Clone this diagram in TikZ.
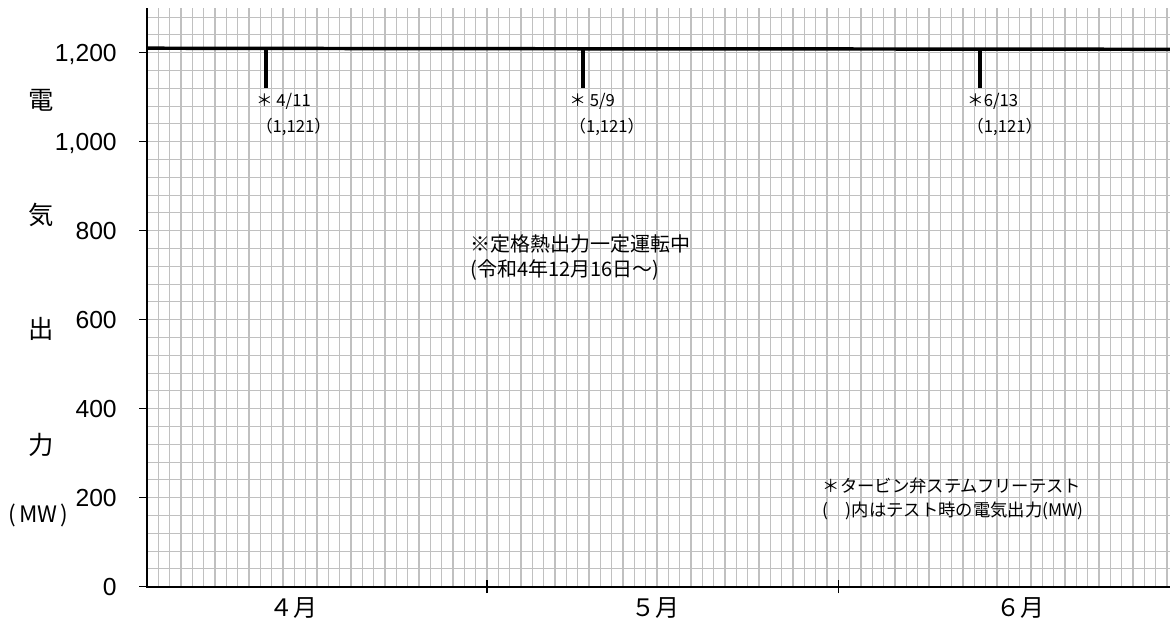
\documentclass[tikz,border=0pt]{standalone}
\usepackage{fontspec}
\setmainfont{Liberation Sans}
\newfontfamily\jpfont{Noto Sans CJK JP}
\definecolor{gridgray}{RGB}{192,192,192}
\begin{document}
\begin{tikzpicture}[x=8.5pt,y=0.33375pt]
\tikzstyle{gridline}= [gridgray,line width=0.8pt]
\tikzstyle{axisline}= [line width=1.6pt]
\tikzstyle{tick}= [line width=1.2pt]
\tikzstyle{trend}= [line width=2.6pt,line join=round]
\tikzstyle{dip}= [line width=3.2pt]
\tikzstyle{num}= [anchor=base east,inner sep=0pt,yshift=-6.7pt,font=\fontsize{18.5}{20}\selectfont]
\tikzstyle{ylab}= [inner sep=0pt,font=\jpfont\fontsize{19}{22}\selectfont]
\tikzstyle{month}= [inner sep=0pt,font=\jpfont\fontsize{18}{20}\selectfont]
\tikzstyle{diplbl}= [anchor=west,inner sep=0pt,font=\jpfont\fontsize{12.5}{14}\selectfont]
\tikzstyle{note}= [anchor=west,inner sep=0pt,font=\jpfont\fontsize{15}{18}\selectfont]
\tikzstyle{keynote}= [anchor=west,inner sep=0pt,font=\jpfont\fontsize{13}{16}\selectfont]
\useasboundingbox (-110.25pt,-29.5pt) rectangle (767.25pt,440pt);
% grid
\foreach \n in {1,...,90}
	\draw[gridline] (\n,0) -- (\n,1300);
\foreach \v in {40,80,...,1280}
	\draw[gridline] (0,\v) -- (90.3,\v);
% axes
\draw[axisline] (0,1300) -- (0,0) -- (90.3,0);
\foreach \v in {0,200,...,1200}
	\draw[tick] (-0.7,\v) -- (0,\v);
\foreach \n in {30,61}
	\draw[tick] (\n,-14.6) -- (\n,14.6);
% output
\draw[trend] (0,1210) -- (25,1209) -- (50,1208.5) -- (75,1208) -- (90.3,1207.5);
\foreach \n in {10.5,38.5,73.5}
	\draw[dip] (\n,1209) -- (\n,1121);
\path
	(-2.65,1200) node[num] (y1200) {1,200}
	(-2.65,1000) node[num] (y1000) {1,000}
	(-2.65,800) node[num] (y800) {800}
	(-2.65,600) node[num] (y600) {600}
	(-2.65,400) node[num] (y400) {400}
	(-2.65,200) node[num] (y200) {200}
	(-2.65,0) node[num] (y0) {0}
;
\path
	(-9.35,1093) node[ylab] (den) {電}
	(-9.35,835) node[ylab] (ki) {気}
	(-9.35,579) node[ylab] (shutsu) {出}
	(-9.35,318) node[ylab] (ryoku) {力}
	(-9.6,161) node[ylab,font=\jpfont\fontsize{17}{20}\selectfont] (unit) {(\kern2pt MW\kern2pt)}
;
\path
	(12.9,-48) node[month] (apr) {４月}
	(44.9,-48) node[month] (may) {５月}
	(77.1,-48) node[month] (jun) {６月}
;
\path
	(9.6,1091) node[diplbl] (t1) {＊ 4/11}
	(9.6,1033) node[diplbl] (v1) {（1,121）}
	(37.25,1091) node[diplbl] (t2) {＊ 5/9}
	(37.25,1033) node[diplbl] (v2) {（1,121）}
	(72.35,1091) node[diplbl] (t3) {＊6/13}
	(72.35,1033) node[diplbl] (v3) {（1,121）}
;
\path
	(28.5,770) node[note] (run1) {※定格熱出力一定運転中}
	(28.5,711) node[note] (run2) {(令和4年12月16日～)}
	(59.6,226) node[keynote] (key1) {＊タービン弁ステムフリーテスト}
	(59.6,170) node[keynote] (key2) {(　)内はテスト時の電気出力(MW)}
;
\end{tikzpicture}
\end{document}
